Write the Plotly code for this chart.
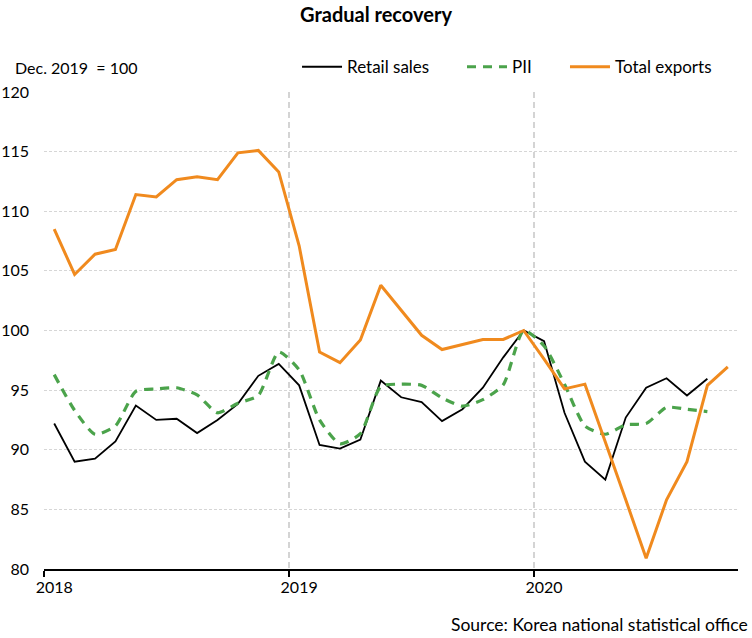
import plotly.graph_objects as go

months = ["2018-01","2018-02","2018-03","2018-04","2018-05","2018-06","2018-07","2018-08","2018-09","2018-10","2018-11","2018-12",
          "2019-01","2019-02","2019-03","2019-04","2019-05","2019-06","2019-07","2019-08","2019-09","2019-10","2019-11","2019-12",
          "2020-01","2020-02","2020-03","2020-04","2020-05","2020-06","2020-07","2020-08","2020-09","2020-10"]

retail_sales = [92.2, 89.0, 89.25, 90.7, 93.7, 92.5, 92.6, 91.4, 92.5, 93.85, 96.2, 97.2,
                95.4, 90.4, 90.1, 90.85, 95.8, 94.4, 94.0, 92.4, 93.4, 95.2, 97.75, 100.0,
                99.1, 93.1, 89.0, 87.5, 92.7, 95.2, 96.0, 94.55, 95.95]

pii = [96.3, 93.3, 91.3, 92.0, 94.9, 95.1, 95.2, 94.6, 93.1, 93.9, 94.55, 98.2,
       96.7, 92.5, 90.5, 91.35, 95.3, 95.5, 95.4, 94.35, 93.65, 94.2, 95.45, 100.0,
       98.7, 95.5, 92.0, 91.3, 92.1, 92.2, 93.55, 93.4, 93.2]

total_exports = [108.5, 104.7, 106.4, 106.8, 111.4, 111.2, 112.65, 112.9, 112.65, 114.9, 115.1, 113.3,
                 107.1, 98.2, 97.3, 99.2, 103.8, 101.7, 99.6, 98.4, 98.8, 99.25, 99.25, 100.0,
                 97.6, 95.1, 95.5, 90.7, 85.8, 80.9, 85.8, 89.0, 95.4, 96.95]

year_labels = ["2018", "2019", "2020"]
y_ticks = [80, 85, 90, 95, 100, 105, 110, 115, 120]

idx = list(range(len(months)))
year_start_idx = [i for i, m in enumerate(months) if m.endswith("-01")]
year_bounds = [i - 0.5 for i in year_start_idx]

FONT = "Lato, Roboto, 'Open Sans', sans-serif"
LEG_Y = 1.052

fig = go.Figure()
fig.add_trace(go.Scatter(x=idx[:len(retail_sales)], y=retail_sales, name="Retail sales", mode="lines",
                         legend="legend", line=dict(color="#000000", width=1.8)))
fig.add_trace(go.Scatter(x=idx[:len(pii)], y=pii, name="PII", mode="lines", legend="legend2",
                         line=dict(color="#4BA34B", width=3.2, dash="9px,7px", shape="spline", smoothing=0.6)))
fig.add_trace(go.Scatter(x=idx[:len(total_exports)], y=total_exports, name="Total exports", mode="lines",
                         legend="legend3", line=dict(color="#F08A1E", width=3)))

leg_common = dict(orientation="h", xanchor="left", y=LEG_Y, yanchor="middle",
                  font=dict(family=FONT, size=17), bgcolor="rgba(0,0,0,0)", itemwidth=40)

fig.update_layout(
    width=752, height=638,
    margin=dict(l=44, r=14, t=92, b=69, autoexpand=False),
    paper_bgcolor="white", plot_bgcolor="white",
    font=dict(family=FONT, size=16, color="#000000"),
    title=dict(text="<b>Gradual recovery</b>", x=0.5, xref="container", xanchor="center",
               y=0.976, yanchor="middle", font=dict(family=FONT, size=20, color="#000000")),
    showlegend=True,
    legend=dict(x=0.3646, **leg_common),
    legend2=dict(x=0.6023, **leg_common),
    legend3=dict(x=0.7507, **leg_common),
    xaxis=dict(range=[-0.5, len(months) - 0.5], tickvals=year_start_idx, ticktext=year_labels,
               showgrid=False, zeroline=False, showline=True, linecolor="#000000", linewidth=1.5,
               ticks="", ticklabelstandoff=3, tickfont=dict(family=FONT, size=16),
               minor=dict(tickvals=year_bounds, showgrid=True, gridcolor="#d4d4d4", gridwidth=2,
                          griddash="6px,4px", ticks="outside", ticklen=6, tickcolor="#000000", tickwidth=1.5)),
    yaxis=dict(range=[80, 120], tickvals=y_ticks, showgrid=True, gridcolor="#d6d6d6", gridwidth=1,
               griddash="3px,2px", zeroline=False, showline=False, ticks="", ticklabelstandoff=14,
               tickfont=dict(family=FONT, size=16)),
    annotations=[
        dict(text="Dec. 2019  = 100", xref="paper", yref="paper", x=-0.045, y=LEG_Y,
             xanchor="left", yanchor="middle", showarrow=False, font=dict(family=FONT, size=16)),
        dict(text="Source: Korea national statistical office", xref="paper", yref="paper", x=1.017, y=-0.117,
             xanchor="right", yanchor="middle", showarrow=False, font=dict(family=FONT, size=17.5)),
    ],
)

fig.write_html("out.html", config={"displayModeBar": False},
               post_script="document.body.style.margin='0';")
